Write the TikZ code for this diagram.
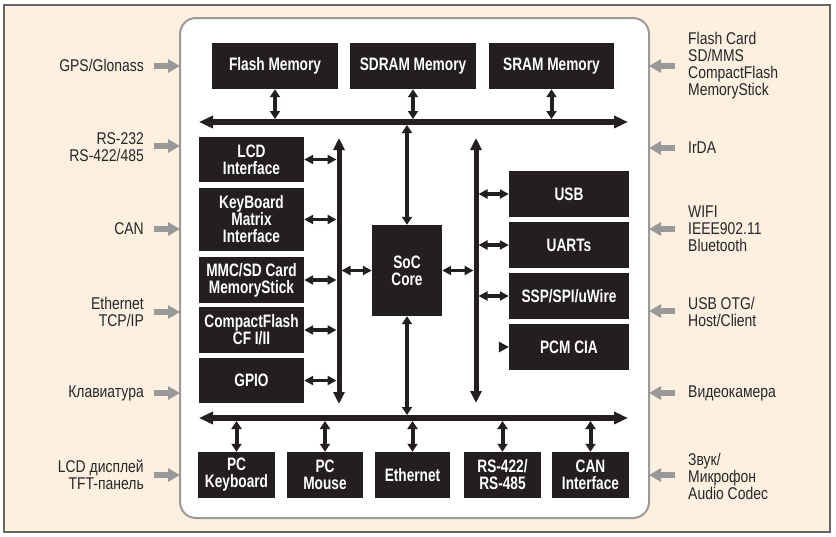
\documentclass[tikz,border=0pt]{standalone}
\usepackage{fontspec}
\setmainfont{Liberation Sans}
\newfontfamily\labfont{Liberation Sans}[FakeStretch=0.82]
\newfontfamily\boxfont{Liberation Sans Bold}[FakeStretch=0.76]
\usetikzlibrary{arrows.meta}
\definecolor{bgc}{HTML}{FDF0E1}
\definecolor{boxc}{HTML}{231F20}
\definecolor{framec}{HTML}{9A9A9A}
\definecolor{sidec}{HTML}{999999}
\tikzset{
  box/.style={fill=boxc,text=white,inner sep=0pt,align=center,
    font=\boxfont\fontsize{18}{17}\selectfont},
  lab/.style={text=black!85,inner sep=0pt,
    font=\labfont\fontsize{17}{17}\selectfont},
  bus/.style={boxc,line width=5.5pt,{Triangle[length=14pt,width=12pt]}-{Triangle[length=14pt,width=12pt]}},
  vbus/.style={boxc,line width=5pt,{Triangle[length=12pt,width=11pt]}-{Triangle[length=12pt,width=11pt]}},
  link/.style={boxc,line width=4pt,{Triangle[length=8pt,width=10pt]}-{Triangle[length=8pt,width=10pt]}},
  hlink/.style={boxc,line width=3.5pt,{Triangle[length=9pt,width=9pt]}-{Triangle[length=9pt,width=9pt]}},
  side/.style={sidec,line width=6pt,-{Triangle[length=12pt,width=13pt]}}
}
\begin{document}
\begin{tikzpicture}[x=1pt,y=-1pt]
\useasboundingbox (0,0) rectangle (836,536);
\draw[fill=bgc,draw=gray!80!black,line width=1.2pt] (4,5) rectangle (830,532);
\draw[fill=white,draw=framec,line width=2pt,rounded corners=16pt] (180,18) rectangle (649,518);

% top memories
\node[box,minimum width=126pt,minimum height=46pt] (flash) at (275,66) {Flash Memory};
\node[box,minimum width=126pt,minimum height=46pt] (sdram) at (413,66) {SDRAM Memory};
\node[box,minimum width=125pt,minimum height=46pt] (sram) at (551.5,66) {SRAM Memory};

% left column
\node[box,minimum width=105pt,minimum height=45pt] (lcd) at (251.5,159.5) {LCD\\Interface};
\node[box,minimum width=105pt,minimum height=63pt] (kbm) at (251.5,219.5) {KeyBoard\\Matrix\\Interface};
\node[box,minimum width=105pt,minimum height=46pt] (mmc) at (251.5,280) {MMC/SD Card\\MemoryStick};
\node[box,minimum width=105pt,minimum height=46pt] (cf) at (251.5,330) {CompactFlash\\CF I/II};
\node[box,minimum width=105pt,minimum height=45pt] (gpio) at (251.5,380.5) {GPIO};

% core
\node[box,minimum width=70pt,minimum height=91pt] (soc) at (407,270.5) {SoC\\Core};

% right column
\node[box,minimum width=120pt,minimum height=46pt] (usb) at (569,194) {USB};
\node[box,minimum width=120pt,minimum height=46pt] (uarts) at (569,245) {UARTs};
\node[box,minimum width=120pt,minimum height=46pt] (ssp) at (569,296) {SSP/SPI/uWire};
\node[box,minimum width=120pt,minimum height=46pt] (pcm) at (569,347) {PCM CIA};

% bottom row
\node[box,minimum width=77pt,minimum height=46pt] (pckb) at (236.5,475) {PC\\Keyboard};
\node[box,minimum width=76pt,minimum height=46pt] (mouse) at (325,475) {PC\\Mouse};
\node[box,minimum width=75pt,minimum height=46pt] (eth) at (412.5,475) {Ethernet};
\node[box,minimum width=77pt,minimum height=46pt] (rs) at (502.5,475) {RS-422/\\RS-485};
\node[box,minimum width=77pt,minimum height=46pt] (can) at (590.5,475) {CAN\\Interface};

% buses
\coordinate (tbl) at (199,122); \coordinate (tbr) at (628,122);
\coordinate (bbl) at (199,418); \coordinate (bbr) at (628,418);
\coordinate (lvt) at (339,138); \coordinate (lvb) at (339,404);
\coordinate (rvt) at (476,138); \coordinate (rvb) at (476,403);
\draw[bus] (tbl) -- (tbr);
\draw[bus] (bbl) -- (bbr);
\draw[vbus] (lvb) -- (lvt);
\draw[vbus] (rvb) -- (rvt);

% links to top bus
\draw[link] (flash.south) -- (flash.south |- 0,119);
\draw[link] (sdram.south) -- (sdram.south |- 0,119);
\draw[link] (sram.south) -- (sram.south |- 0,119);
\draw[link] (soc.north) -- (soc.north |- 0,125);
\draw[link] (soc.south) -- (soc.south |- 0,415);

% links to bottom bus
\foreach \n in {pckb,mouse,eth,rs,can}{
  \draw[link] (\n.north) -- (\n.north |- 0,421);
}

% left column links
\foreach \n in {lcd,kbm,mmc,cf,gpio}{
  \draw[hlink] (\n.east) -- (\n.east -| 336.5,0);
}
\draw[hlink] (soc.west) -- (soc.west -| 341.5,0);
\draw[hlink] (soc.east) -- (soc.east -| 473.5,0);

% right column links
\foreach \n in {usb,uarts,ssp}{
  \draw[hlink] (\n.west -| 478.5,0) -- (\n.west);
}
\fill[boxc] (pcm.west) -- ++(-10,-5.5) -- ++(0,11) -- cycle;

% left side labels
\node[lab,anchor=east,align=right] (l1) at (144,65) {GPS/Glonass};
\node[lab,anchor=east,align=right] (l2) at (144,147) {RS-232\\RS-422/485};
\node[lab,anchor=east,align=right] (l3) at (144,229) {CAN};
\node[lab,anchor=east,align=right] (l4) at (144,312) {Ethernet\\TCP/IP};
\node[lab,anchor=east,align=right] (l5) at (144,393) {Клавиатура};
\node[lab,anchor=east,align=right] (l6) at (144,475) {LCD дисплей\\TFT-панель};

% right side labels
\node[lab,anchor=west,align=left] (r1) at (688,66) {Flash Card\\SD/MMS\\CompactFlash\\MemoryStick};
\node[lab,anchor=west,align=left] (r2) at (688,148) {IrDA};
\node[lab,anchor=west,align=left] (r3) at (688,229) {WIFI\\IEEE902.11\\Bluetooth};
\node[lab,anchor=west,align=left] (r4) at (688,312) {USB OTG/\\Host/Client};
\node[lab,anchor=west,align=left] (r5) at (688,393) {Видеокамера};
\node[lab,anchor=west,align=left] (r6) at (688,476) {Звук/\\Микрофон\\Audio Codec};

% side arrows
\foreach \i/\y in {1/66,2/146,3/229,4/312,5/393,6/475}{
  \coordinate (ls\i) at (154,\y); \coordinate (le\i) at (180,\y);
  \draw[side] (ls\i) -- (le\i);
}
\foreach \i/\y in {1/66,2/148,3/229,4/311,5/393,6/475}{
  \coordinate (rs\i) at (675,\y); \coordinate (re\i) at (649,\y);
  \draw[side] (rs\i) -- (re\i);
}
\end{tikzpicture}
\end{document}
